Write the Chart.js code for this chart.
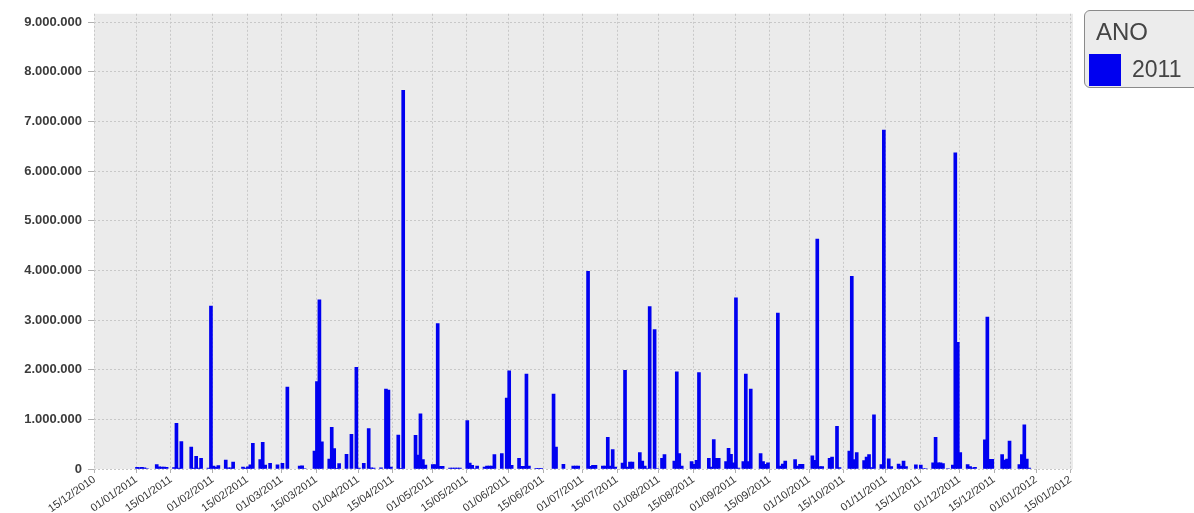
<!DOCTYPE html>
<html>
<head>
<meta charset="utf-8">
<title>ANO 2011</title>
<script src="https://cdn.jsdelivr.net/npm/chart.js@4.4.1/dist/chart.umd.min.js"></script>
<style>
  body { margin: 0; background: #fff; }
  #wrap { position: relative; width: 1194px; height: 513px; overflow: hidden; }
  #legend {
    position: absolute; left: 1084px; top: 10px; width: 140px; height: 76px;
    border: 1px solid #8a8a8a; border-radius: 6px; background: #ececec;
    font-family: 'Liberation Sans', Arial, sans-serif; color: #444;
  }
  #legend .title { position: absolute; left: 11px; top: 9px; font-size: 24px; line-height: 1; }
  #legend .swatch { position: absolute; left: 4px; top: 43px; width: 32px; height: 32px; background: #0000f0; }
  #legend .label { position: absolute; left: 47px; top: 47px; font-size: 23px; line-height: 1; }
</style>
</head>
<body>
<div id="wrap">
  <canvas id="chart"></canvas>
  <div id="legend">
    <span class="title">ANO</span>
    <span class="swatch"></span>
    <span class="label">2011</span>
  </div>
</div>
<script>
// ------------------------------------------------------------
// Daily totals for 2011
// ------------------------------------------------------------

// day of year 2011 (1 = 01/01/2011), one line per month
const DAYS = [
  1, 2, 3, 4, 5, 9, 10, 11, 12, 13, 16, 17, 18, 19, 23, 24, 25, 26, 27, 30, 31,
  32, 33, 34, 37, 38, 39, 40, 44, 45, 46, 47, 48, 51, 52, 53, 55, 58,
  60, 62, 67, 68, 69, 73, 74, 75, 76, 79, 80, 81, 82, 83, 86, 88, 90,
  91, 93, 95, 96, 97, 100, 102, 103, 104, 107, 108, 109, 114, 115, 116, 117, 118,
  121, 122, 123, 124, 125, 128, 129, 130, 131, 132, 135, 136, 137, 138, 139, 142, 143, 144, 145, 146, 149, 151,
  152, 153, 156, 157, 158, 159, 160, 163, 164, 165, 170, 171, 174, 178, 179, 180,
  184, 185, 186, 187, 190, 191, 192, 193, 194, 195, 198, 199, 200, 201, 202, 205, 206, 207, 208, 209, 211, 212,
  214, 215, 219, 220, 221, 222, 226, 227, 228, 229, 233, 234, 235, 236, 237, 240, 241, 242, 243,
  244, 245, 247, 248, 249, 250, 254, 255, 256, 257, 261, 262, 263, 264, 268, 269, 270, 271,
  275, 276, 277, 278, 279, 282, 283, 285, 286, 290, 291, 292, 293, 296, 297, 298, 299, 300, 303, 304,
  306, 307, 310, 311, 312, 313, 317, 319, 320, 321, 324, 325, 326, 327, 328, 330, 332, 333, 334,
  335, 338, 339, 340, 341, 345, 346, 347, 348, 352, 353, 354, 355, 359, 360, 361, 362, 363
];

// values in thousands, same order as DAYS
const VALUES_K = [
  35, 30, 35, 25, 10, 90, 45, 40, 40, 35, 30, 920, 20, 550, 440, 20, 255, 20, 215, 20, 3280,
  60, 40, 70, 180, 25, 25, 140, 40, 20, 45, 85, 515, 190, 535, 80, 115, 85,
  115, 1650, 60, 65, 10, 360, 1760, 3410, 548, 200, 840, 413, 15, 107, 295, 700, 2050,
  20, 115, 815, 25, 20, 25, 1610, 1590, 40, 685, 15, 7630, 680, 280, 1110, 190, 80,
  90, 90, 2930, 55, 55, 20, 20, 20, 20, 20, 975, 120, 75, 10, 60, 40, 60, 60, 60, 290, 310, 1430,
  1980, 75, 215, 55, 55, 1910, 60, 7, 7, 7, 1510, 440, 95, 60, 60, 60,
  3980, 55, 75, 75, 60, 60, 640, 60, 393, 40, 120, 1990, 40, 140, 140, 330, 160, 60, 10, 3270, 2810, 10,
  215, 290, 160, 1960, 310, 60, 150, 95, 175, 1940, 215, 40, 593, 215, 215, 150, 415, 295, 125,
  3450, 20, 150, 1910, 150, 1610, 310, 150, 95, 125, 3140, 60, 100, 160, 190, 60, 95, 95,
  265, 175, 4630, 50, 50, 215, 240, 862, 30, 360, 3880, 190, 330, 170, 240, 290, 30, 1090, 90, 6830,
  205, 50, 100, 60, 160, 50, 85, 80, 10, 10, 125, 640, 125, 125, 110, 10, 80, 6370, 2550,
  330, 90, 50, 25, 35, 590, 3060, 195, 195, 290, 180, 200, 560, 90, 290, 890, 200, 20
];

const X_TICK_LABELS = [
  '15/12/2010',
  '01/01/2011', '15/01/2011', '01/02/2011', '15/02/2011', '01/03/2011', '15/03/2011',
  '01/04/2011', '15/04/2011', '01/05/2011', '15/05/2011', '01/06/2011', '15/06/2011',
  '01/07/2011', '15/07/2011', '01/08/2011', '15/08/2011', '01/09/2011', '15/09/2011',
  '01/10/2011', '15/10/2011', '01/11/2011', '15/11/2011', '01/12/2011', '15/12/2011',
  '01/01/2012', '15/01/2012'
];

const Y_TICKS = [0, 1000000, 2000000, 3000000, 4000000, 5000000, 6000000, 7000000, 8000000, 9000000];

// dd/mm/yyyy -> days since 15/12/2010
const ORIGIN = Date.UTC(2010, 11, 15);
function dayNumber(label) {
  const [d, m, y] = label.split('/').map(Number);
  return (Date.UTC(y, m - 1, d) - ORIGIN) / 86400000;
}

const JAN1 = dayNumber('01/01/2011');
const TICK_DAYS = X_TICK_LABELS.map(dayNumber);

// bars sit a little into their day, like the original plot
const points = DAYS.map((d, i) => ({ x: JAN1 + d - 1 + 0.25, y: VALUES_K[i] * 1000 }));

function dotted(v) {
  return String(v).replace(/\B(?=(\d{3})+(?!\d))/g, '.');
}

// grey panel behind the bars
const plotBackground = {
  id: 'plotBackground',
  beforeDraw(chart) {
    const { ctx, chartArea: a } = chart;
    ctx.save();
    ctx.fillStyle = '#ebebeb';
    ctx.fillRect(a.left, a.top, a.right - a.left, a.bottom - a.top);
    ctx.restore();
  }
};

Chart.defaults.font.family = "'Liberation Sans', Arial, sans-serif";

new Chart(document.getElementById('chart'), {
  type: 'bar',
  data: {
    datasets: [{
      label: '2011',
      data: points,
      backgroundColor: '#0000f0',
      borderWidth: 0,
      barThickness: 3
    }]
  },
  options: {
    responsive: true,
    maintainAspectRatio: false,
    animation: false,
    layout: { padding: { top: 10, right: 121, left: 0, bottom: 0 } },
    plugins: {
      legend: { display: false },
      tooltip: { enabled: false }
    },
    scales: {
      x: {
        type: 'linear',
        min: -0.2,
        max: dayNumber('15/01/2012') + 1,
        offset: false,
        afterBuildTicks: scale => {
          scale.ticks = TICK_DAYS.map(v => ({ value: v }));
        },
        afterFit: scale => { scale.height = 44; },
        grid: {
          offset: false,
          color: '#c8c8c8',
          tickColor: '#b0b0b0',
          tickLength: 4
        },
        border: { display: false, dash: [2, 2] },
        ticks: {
          autoSkip: false,
          minRotation: 35,
          maxRotation: 35,
          padding: 0,
          color: '#333',
          font: { size: 11 },
          callback: (value, index) => X_TICK_LABELS[index]
        }
      },
      y: {
        min: 0,
        max: 9170000,
        afterBuildTicks: scale => {
          scale.ticks = Y_TICKS.map(v => ({ value: v }));
        },
        afterFit: scale => { scale.width = 94; },
        grid: {
          color: '#c8c8c8',
          tickColor: '#b0b0b0',
          tickLength: 6
        },
        border: { display: false, dash: [2, 2] },
        ticks: {
          padding: 6,
          color: '#3c3c3c',
          font: { size: 13, weight: 'bold' },
          callback: value => dotted(value)
        }
      }
    }
  },
  plugins: [plotBackground]
});
</script>
</body>
</html>
